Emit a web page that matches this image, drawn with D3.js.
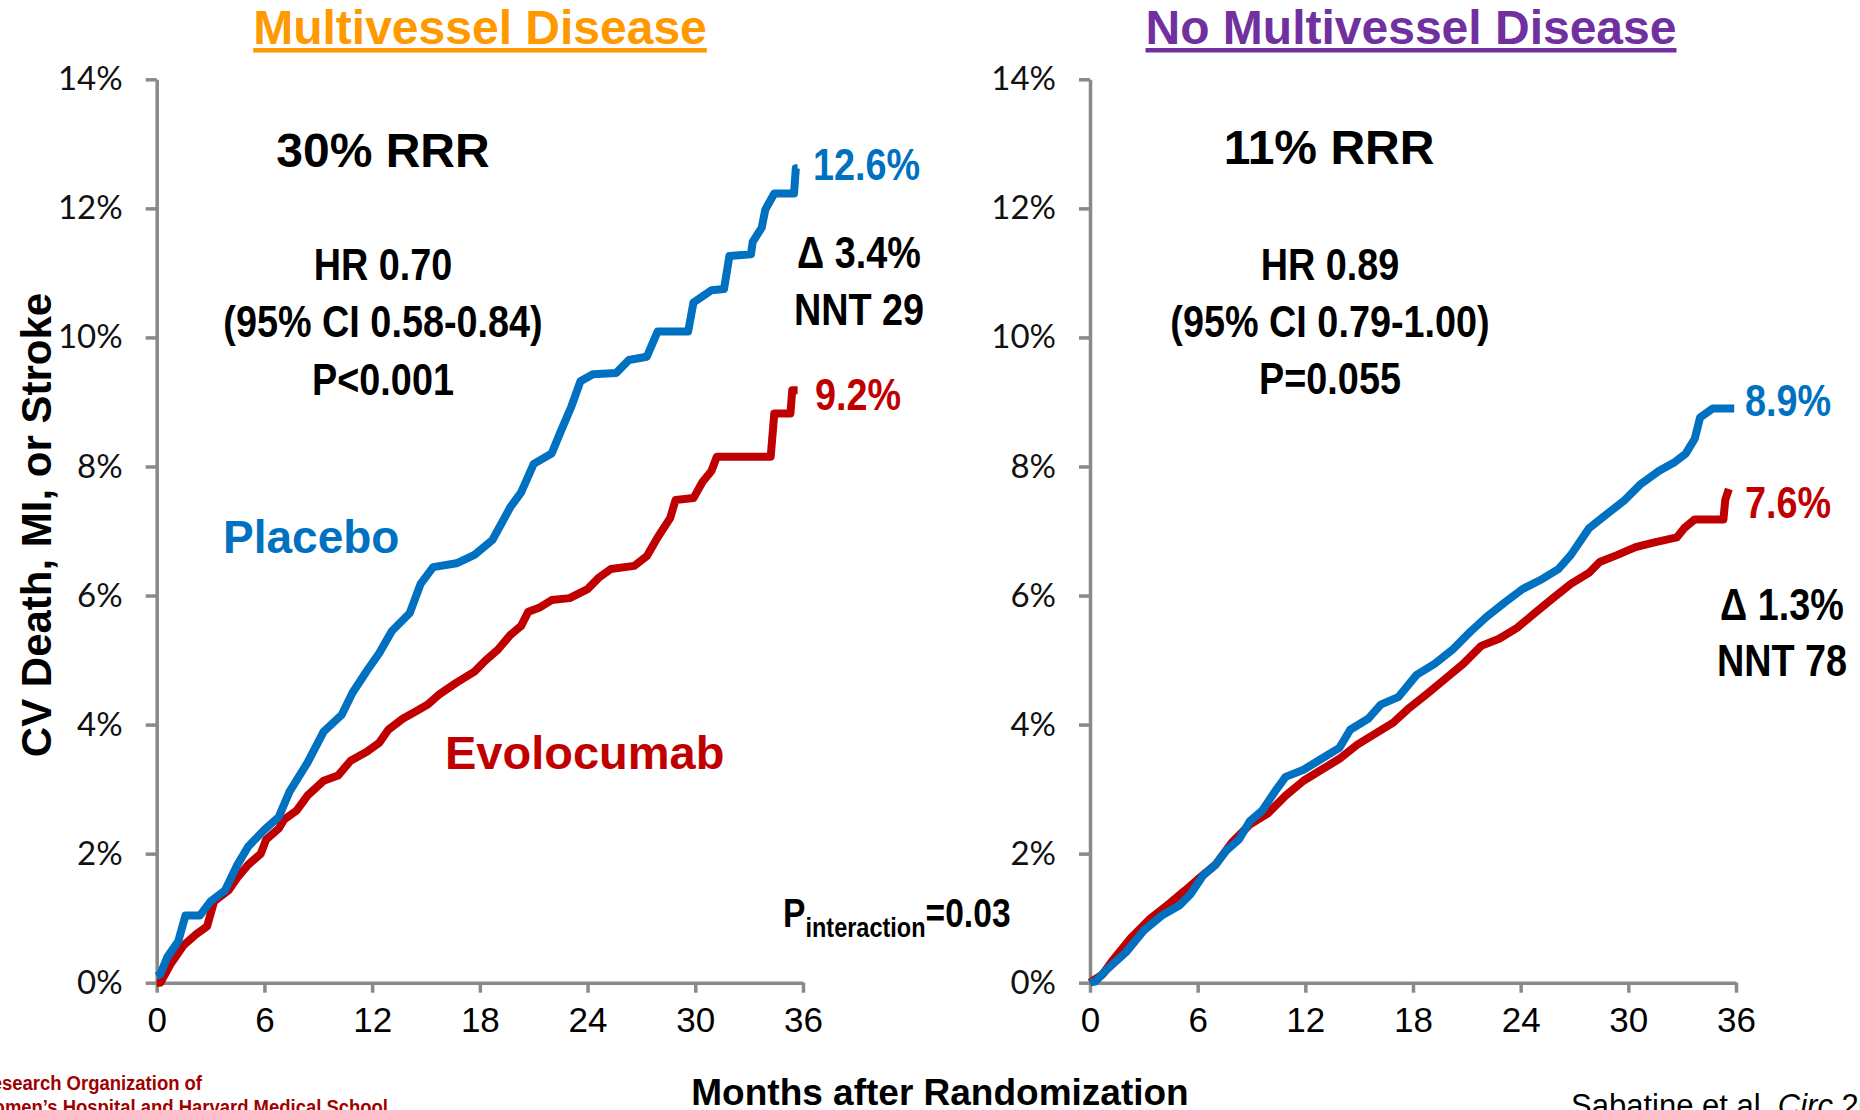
<!DOCTYPE html>
<meta charset="utf-8">
<style>
  body { margin: 0; background: #fff; }
  svg { display: block; }
</style>
<svg width="1860" height="1110"></svg>
<script src="https://d3js.org/d3.v7.min.js"></script>
<script>
// tick values
var monthTicks = [0, 6, 12, 18, 24, 30, 36]
var pctTicks = [0, 2, 4, 6, 8, 10, 12, 14]

// KM curves, [month, percent]
var mvPlacebo = [
  [0, 0.1], [0.2, 0.13], [0.6, 0.4], [1.2, 0.64], [1.6, 1.04], [2.4, 1.04], [3.0, 1.26], [3.8, 1.43],
  [4.5, 1.83], [5.1, 2.11], [6.0, 2.37], [6.8, 2.57], [7.4, 2.96], [8.4, 3.41], [9.3, 3.89],
  [10.3, 4.15], [10.9, 4.49], [11.7, 4.83], [12.4, 5.11], [13.1, 5.45], [14.1, 5.73], [14.7, 6.18],
  [15.4, 6.44], [16.7, 6.5], [17.7, 6.63], [18.7, 6.86], [19.7, 7.37], [20.3, 7.6], [21.0, 8.04],
  [22.0, 8.2], [22.5, 8.54], [23.1, 8.93], [23.6, 9.32], [24.3, 9.43], [25.6, 9.45], [26.3, 9.65],
  [27.3, 9.7], [27.9, 10.09], [29.6, 10.09], [29.9, 10.54], [30.9, 10.73], [31.6, 10.75],
  [31.9, 11.26], [33.1, 11.29], [33.2, 11.48], [33.7, 11.7], [33.9, 11.98], [34.4, 12.23],
  [35.5, 12.23], [35.6, 12.62], [35.7, 12.62]
]
var mvEvolocumab = [
  [0, 0], [0.2, 0], [0.8, 0.3], [1.5, 0.58], [2.2, 0.75], [2.8, 0.87], [3.2, 1.26], [4.0, 1.43],
  [4.5, 1.63], [5.1, 1.83], [5.8, 2.0], [6.1, 2.22], [6.8, 2.39], [7.1, 2.53], [7.8, 2.67],
  [8.4, 2.9], [9.3, 3.13], [10.1, 3.21], [10.8, 3.44], [11.7, 3.58], [12.4, 3.72], [12.9, 3.92],
  [13.7, 4.09], [14.4, 4.2], [15.1, 4.31], [15.7, 4.46], [16.7, 4.65], [17.7, 4.82], [18.3, 4.99],
  [19.0, 5.16], [19.7, 5.39], [20.3, 5.53], [20.7, 5.75], [21.3, 5.81], [22.0, 5.93], [23.0, 5.96],
  [24.0, 6.1], [24.6, 6.27], [25.3, 6.41], [26.6, 6.46], [27.3, 6.61], [27.9, 6.9], [28.6, 7.2],
  [28.9, 7.48], [29.9, 7.51], [30.4, 7.76], [30.9, 7.93], [31.2, 8.15], [34.2, 8.15], [34.4, 8.82],
  [35.3, 8.82], [35.4, 9.18], [35.7, 9.18]
]
var noPlacebo = [
  [0, 0], [0.3, 0.02], [1.0, 0.22], [2.0, 0.47], [3.0, 0.81], [4.0, 1.04], [5.0, 1.2], [5.6, 1.37],
  [6.3, 1.66], [7.0, 1.83], [7.6, 2.05], [8.3, 2.22], [8.9, 2.5], [9.6, 2.67], [10.3, 2.96],
  [10.9, 3.19], [11.9, 3.3], [12.9, 3.47], [13.9, 3.64], [14.5, 3.92], [15.5, 4.09], [16.2, 4.31],
  [17.2, 4.43], [18.2, 4.77], [19.2, 4.94], [20.2, 5.16], [21.2, 5.44], [22.1, 5.67], [23.1, 5.89],
  [24.1, 6.1], [25.1, 6.24], [26.1, 6.41], [26.8, 6.63], [27.8, 7.04], [28.8, 7.26], [29.8, 7.48],
  [30.7, 7.73], [31.7, 7.93], [32.6, 8.07], [33.2, 8.2], [33.7, 8.43], [34.0, 8.76], [34.7, 8.9],
  [35.9, 8.9]
]
var noEvolocumab = [
  [0, 0], [0.7, 0.13], [1.3, 0.36], [2.3, 0.7], [3.3, 0.98], [4.3, 1.2], [5.3, 1.43], [6.0, 1.6],
  [7.0, 1.83], [7.9, 2.17], [8.9, 2.45], [9.9, 2.62], [10.9, 2.9], [11.9, 3.13], [12.9, 3.3],
  [13.9, 3.47], [14.9, 3.69], [15.9, 3.86], [16.9, 4.03], [17.8, 4.26], [18.8, 4.48], [19.8, 4.71],
  [20.8, 4.94], [21.8, 5.22], [22.8, 5.33], [23.8, 5.5], [24.8, 5.73], [25.8, 5.96], [26.8, 6.18],
  [27.8, 6.35], [28.4, 6.52], [29.4, 6.63], [30.4, 6.75], [31.4, 6.82], [32.7, 6.9], [33.1, 7.04],
  [33.7, 7.18], [35.3, 7.18], [35.4, 7.48], [35.6, 7.65]
]

var blue = '#0070C0'
var red = '#C00000'
var axisGray = '#898989'
var sans = '"Liberation Sans", Arial, sans-serif'

var svg = d3.select('svg')
svg.append('rect').attr('width', 1860).attr('height', 1110).attr('fill', '#fff')

var y = d3.scaleLinear().domain([0, 14]).range([982.7, 79.3])

// text helper; sx < 1 squeezes text horizontally like Arial Narrow
function label(x, yy, str, o) {
  o = o || {}
  var t = svg.append('text')
    .attr('transform', 'translate(' + x + ',' + yy + ') scale(' + (o.sx || 1) + ',1)')
    .attr('font-family', o.family || sans)
    .attr('font-size', o.size || 40)
    .attr('font-weight', o.weight || 'bold')
    .attr('fill', o.fill || '#000')
    .attr('text-anchor', o.anchor || 'start')
    .text(str)
  return t
}

function panel(x0, x1, placebo, evolocumab) {
  var x = d3.scaleLinear().domain([0, 36]).range([x0, x1])
  var g = svg.append('g')

  var yAxis = g.append('g')
    .attr('transform', 'translate(' + x0 + ',0)')
    .call(d3.axisLeft(y).tickValues(pctTicks).tickSize(11).tickSizeOuter(0)
      .tickPadding(23).tickFormat(function (d) { return d + '%' }))
  var xAxis = g.append('g')
    .attr('transform', 'translate(0,' + y(0) + ')')
    .call(d3.axisBottom(x).tickValues(monthTicks).tickSize(10).tickSizeOuter(0).tickPadding(14))

  ;[xAxis, yAxis].forEach(function (a) {
    a.select('.domain').attr('stroke', axisGray).attr('stroke-width', 3.5)
    a.selectAll('.tick line').attr('stroke', axisGray).attr('stroke-width', 3.5)
  })
  yAxis.selectAll('.tick text')
    .attr('font-family', 'Lato, "Open Sans", sans-serif').attr('font-size', 33)
    .attr('fill', '#111')
  xAxis.selectAll('.tick text')
    .attr('font-family', sans).attr('font-size', 35)
    .attr('fill', '#000')

  var line = d3.line()
    .x(function (d) { return x(d[0]) })
    .y(function (d) { return y(d[1]) })

  g.append('path').datum(evolocumab)
    .attr('d', line).attr('fill', 'none').attr('stroke', red)
    .attr('stroke-width', 8).attr('stroke-linejoin', 'round')
  g.append('path').datum(placebo)
    .attr('d', line).attr('fill', 'none').attr('stroke', blue)
    .attr('stroke-width', 8).attr('stroke-linejoin', 'round')
}

panel(156.7, 803, mvPlacebo, mvEvolocumab)
panel(1090, 1736, noPlacebo, noEvolocumab)

// titles with underline
function title(cx, str, color) {
  var t = label(cx, 44, str, { size: 48, fill: color, anchor: 'middle' })
  var w = t.node().getComputedTextLength()
  svg.append('rect').attr('x', cx - w / 2).attr('y', 48).attr('width', w).attr('height', 4.5)
    .attr('fill', color)
}
title(480, 'Multivessel Disease', '#FF9900')
title(1411, 'No Multivessel Disease', '#7030A0')

var narrow = { size: 45, sx: 0.84, anchor: 'middle' }

// left panel notes
label(383, 167, '30% RRR', { size: 48, anchor: 'middle' })
label(383, 280, 'HR 0.70', narrow)
label(383, 337, '(95% CI 0.58-0.84)', narrow)
label(383, 395, 'P<0.001', narrow)
label(813, 180, '12.6%', { size: 45, sx: 0.84, fill: blue })
label(859, 268, '\u0394 3.4%', narrow)
label(859, 325, 'NNT 29', narrow)
label(815, 410, '9.2%', { size: 45, sx: 0.84, fill: red })
label(223, 553, 'Placebo', { size: 46, fill: blue })
label(445, 769, 'Evolocumab', { size: 47, fill: red })

var pint = label(783, 927, 'P', { size: 40, sx: 0.84 })
pint.append('tspan').attr('font-size', 28).attr('dy', 10).text('interaction')
pint.append('tspan').attr('dy', -10).text('=0.03')

// right panel notes
label(1329, 164, '11% RRR', { size: 48, anchor: 'middle' })
label(1330, 280, 'HR 0.89', narrow)
label(1330, 337, '(95% CI 0.79-1.00)', narrow)
label(1330, 394, 'P=0.055', narrow)
label(1745, 416, '8.9%', { size: 45, sx: 0.84, fill: blue })
label(1745, 518, '7.6%', { size: 45, sx: 0.84, fill: red })
label(1782, 620, '\u0394 1.3%', narrow)
label(1782, 676, 'NNT 78', narrow)

// axis titles
svg.append('text')
  .attr('transform', 'translate(51,525) rotate(-90)')
  .attr('font-family', sans).attr('font-size', 42).attr('font-weight', 'bold')
  .attr('text-anchor', 'middle')
  .text('CV Death, MI, or Stroke')
label(940, 1105, 'Months after Randomization', { size: 37, anchor: 'middle' })

// footer (cut at the left edge, as on the slide)
label(202, 1090, 'Research Organization of', { size: 21, sx: 0.88, fill: '#A00000', anchor: 'end' })
label(388, 1114, 'Brigham and Women\u2019s Hospital and Harvard Medical School', { size: 21, sx: 0.88, fill: '#A00000', anchor: 'end' })
var cite = label(1571, 1116, 'Sabatine et al. ', { size: 31, weight: 'normal' })
cite.append('tspan').attr('font-style', 'italic').text('Circ')
cite.append('tspan').text(' 2018')
</script>
